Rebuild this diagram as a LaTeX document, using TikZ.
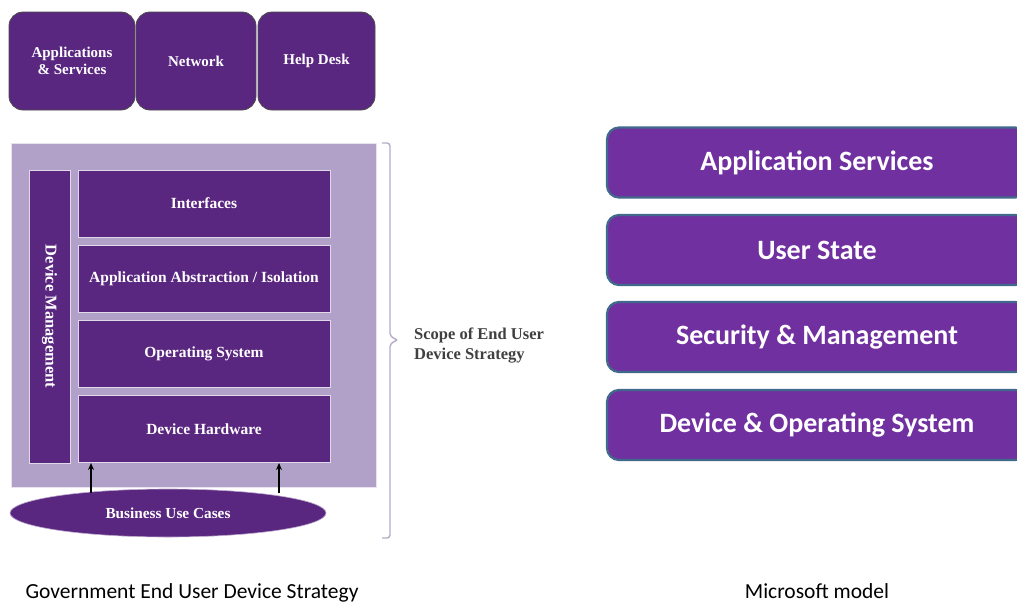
\documentclass[tikz,border=0pt]{standalone}
\usepackage{fontspec}
\setmainfont{Liberation Serif}
\newfontfamily\calib{Carlito}
\usetikzlibrary{arrows.meta,shapes.geometric}
\definecolor{dpurple}{HTML}{5A2780}
\definecolor{lpurple}{HTML}{B1A1C8}
\definecolor{mpurple}{HTML}{7030A0}
\definecolor{mborder}{HTML}{41698C}
\definecolor{brk}{HTML}{B8ABCB}
\tikzset{
  topbox/.style={draw=black!70, line width=0.8pt, fill=dpurple, rounded corners=14pt, text=white, font=\bfseries\fontsize{15}{16.5}\selectfont, align=center, inner sep=0pt},
  layer/.style={draw=white!60!lpurple, line width=1pt, fill=dpurple, text=white, font=\bfseries\fontsize{15.5}{17}\selectfont, inner sep=0pt},
  msbox/.style={draw=mborder, line width=2.2pt, fill=mpurple, rounded corners=12pt, text=white, font=\calib\bfseries\fontsize{28}{30}\selectfont, inner sep=0pt, minimum width=420pt, minimum height=70pt},
  arr/.style={-{Stealth[length=7pt,width=6pt]}, line width=1.3pt, black},
  caption/.style={font=\calib\fontsize{21.5}{24}\selectfont, inner sep=0pt}
}
\begin{document}
\begin{tikzpicture}[x=1pt,y=-1pt]
\useasboundingbox (0,0) rectangle (1017,603);
\clip (0,0) rectangle (1017,603);
\fill[white] (0,0) rectangle (1017,603);
% top boxes
\node[topbox, minimum width=126pt, minimum height=98pt] (apps) at (72,61) {Applications\\\& Services};
\node[topbox, minimum width=120pt, minimum height=98pt] (net) at (196,61) {Network};
\node[topbox, minimum width=117pt, minimum height=98pt] (help) at (316.5,61) {Help Desk};
% background
\node[fill=lpurple, draw=white!70!lpurple, minimum width=365pt, minimum height=344pt, inner sep=0pt] (bg) at (193.5,315) {};
% device management
\node[layer, rotate=-90, minimum width=293pt, minimum height=41pt, font=\bfseries\fontsize{16.5}{18}\selectfont] (dm) at (49.5,316.5) {Device Management};
% layers
\node[layer, minimum width=252pt, minimum height=67pt] (intf) at (204,203.5) {Interfaces};
\node[layer, minimum width=252pt, minimum height=67pt] (abs) at (204,279) {Application Abstraction / Isolation};
\node[layer, minimum width=252pt, minimum height=67pt] (os) at (204,353.5) {Operating System};
\node[layer, minimum width=252pt, minimum height=67pt] (hw) at (204,429) {Device Hardware};
% ellipse
\node[ellipse, fill=dpurple, draw=white!60!dpurple, line width=0.6pt, minimum width=316pt, minimum height=48pt, inner sep=0pt, text=white, font=\bfseries\fontsize{15.3}{17}\selectfont] (bu) at (168,513) {Business Use Cases};
% arrows
\coordinate (a1) at (91,493);
\coordinate (a2) at (279,493);
\draw[arr] (a1) -- (a1 |- hw.south);
\draw[arr] (a2) -- (a2 |- hw.south);
% bracket
\draw[brk, line width=1.4pt, rounded corners=3pt] (382,143) -- (390,143) -- (390,336) -- (397,340);
\draw[brk, line width=1.4pt, rounded corners=3pt] (397,340) -- (390,344) -- (390,538) -- (382,538);
\node[anchor=west, align=left, font=\bfseries\fontsize{16.5}{20}\selectfont, text=black!75, inner sep=0pt] (scope) at (414,346) {Scope of End User\\Device Strategy};
% Microsoft model
\node[msbox] (as) at (817,162.5) {Application Services};
\node[msbox] (us) at (817,250) {User State};
\node[msbox] (sm) at (817,337) {Security \& Management};
\node[msbox] (dos) at (817,425) {Device \& Operating System};
% captions
\node[caption] (cap1) at (192,593) {Government End User Device Strategy};
\node[caption] (cap2) at (817,591) {Microsoft model};
\end{tikzpicture}
\end{document}
